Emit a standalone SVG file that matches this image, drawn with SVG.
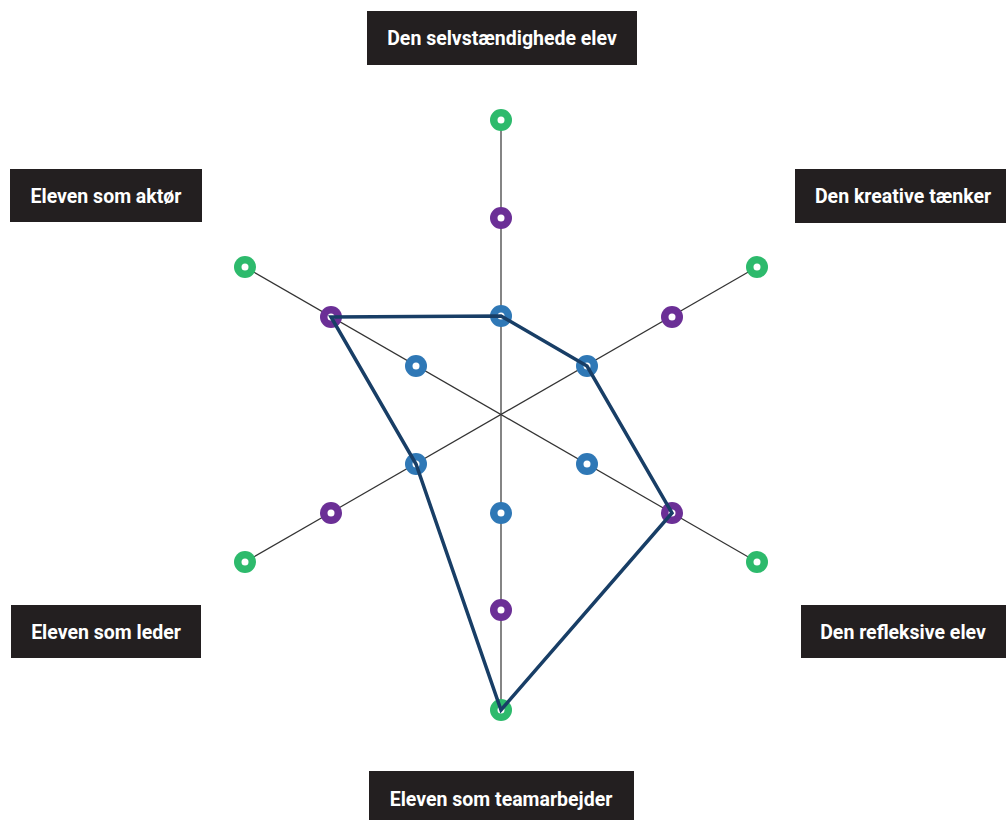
<svg xmlns="http://www.w3.org/2000/svg" width="1006" height="820" viewBox="0 0 1006 820">
<style>
.box{fill:#231f20}
.lbl{fill:#ffffff;font-family:Roboto,"Liberation Sans",sans-serif;font-weight:bold;font-size:19.5px;text-anchor:middle}
.axis{stroke:#333333;stroke-width:1.2;fill:none}
.g{fill:#2dba6c}
.p{fill:#6b2f96}
.b{fill:#2f78b6}
.hole{fill:#ffffff}
.poly{fill:none;stroke:#183e66;stroke-width:3.5;stroke-linejoin:miter}
</style>
<rect width="1006" height="820" fill="#ffffff"/>
<g id="axes">
<line class="axis" x1="501" y1="120" x2="501" y2="710"/>
<line class="axis" x1="245" y1="267" x2="757" y2="562"/>
<line class="axis" x1="757" y1="267" x2="245" y2="562"/>
</g>
<g id="points">
<circle class="g" cx="501" cy="120" r="11"/><circle class="hole" cx="501" cy="120" r="3.5"/>
<circle class="p" cx="501" cy="218" r="11"/><circle class="hole" cx="501" cy="218" r="3.5"/>
<circle class="b" cx="501" cy="316" r="11"/><circle class="hole" cx="501" cy="316" r="3.5"/>
<circle class="b" cx="501" cy="513" r="11"/><circle class="hole" cx="501" cy="513" r="3.5"/>
<circle class="p" cx="501" cy="610" r="11"/><circle class="hole" cx="501" cy="610" r="3.5"/>
<circle class="g" cx="501" cy="710" r="11"/><circle class="hole" cx="501" cy="710" r="3.5"/>
<circle class="g" cx="757" cy="267" r="11"/><circle class="hole" cx="757" cy="267" r="3.5"/>
<circle class="p" cx="672" cy="317" r="11"/><circle class="hole" cx="672" cy="317" r="3.5"/>
<circle class="b" cx="587" cy="366" r="11"/><circle class="hole" cx="587" cy="366" r="3.5"/>
<circle class="b" cx="587" cy="464" r="11"/><circle class="hole" cx="587" cy="464" r="3.5"/>
<circle class="p" cx="672" cy="513" r="11"/><circle class="hole" cx="672" cy="513" r="3.5"/>
<circle class="g" cx="757" cy="562" r="11"/><circle class="hole" cx="757" cy="562" r="3.5"/>
<circle class="g" cx="245" cy="267" r="11"/><circle class="hole" cx="245" cy="267" r="3.5"/>
<circle class="p" cx="331" cy="317" r="11"/><circle class="hole" cx="331" cy="317" r="3.5"/>
<circle class="b" cx="416" cy="366" r="11"/><circle class="hole" cx="416" cy="366" r="3.5"/>
<circle class="b" cx="416" cy="464" r="11"/><circle class="hole" cx="416" cy="464" r="3.5"/>
<circle class="p" cx="331" cy="513" r="11"/><circle class="hole" cx="331" cy="513" r="3.5"/>
<circle class="g" cx="245" cy="562" r="11"/><circle class="hole" cx="245" cy="562" r="3.5"/>
</g>
<g id="connectors">
<polygon class="poly" points="331,317 501,316 587,366 672,513 501,710 416,464"/>
</g>
<g id="n-selvstaendig"><rect class="box" x="367" y="11" width="270" height="54"/><text class="lbl" x="502" y="45">Den selvstændighede elev</text></g>
<g id="n-aktoer"><rect class="box" x="10" y="169" width="192" height="53"/><text class="lbl" x="106" y="202.5">Eleven som aktør</text></g>
<g id="n-kreative"><rect class="box" x="795" y="169" width="211" height="54"/><text class="lbl" x="903" y="202.5">Den kreative tænker</text></g>
<g id="n-leder"><rect class="box" x="11" y="605" width="190" height="53"/><text class="lbl" x="106" y="638.5">Eleven som leder</text></g>
<g id="n-refleksive"><rect class="box" x="801" y="605" width="205" height="53"/><text class="lbl" x="903" y="638.5">Den refleksive elev</text></g>
<g id="n-team"><rect class="box" x="369" y="771" width="265" height="49"/><text class="lbl" x="501" y="805.5">Eleven som teamarbejder</text></g>
</svg>
